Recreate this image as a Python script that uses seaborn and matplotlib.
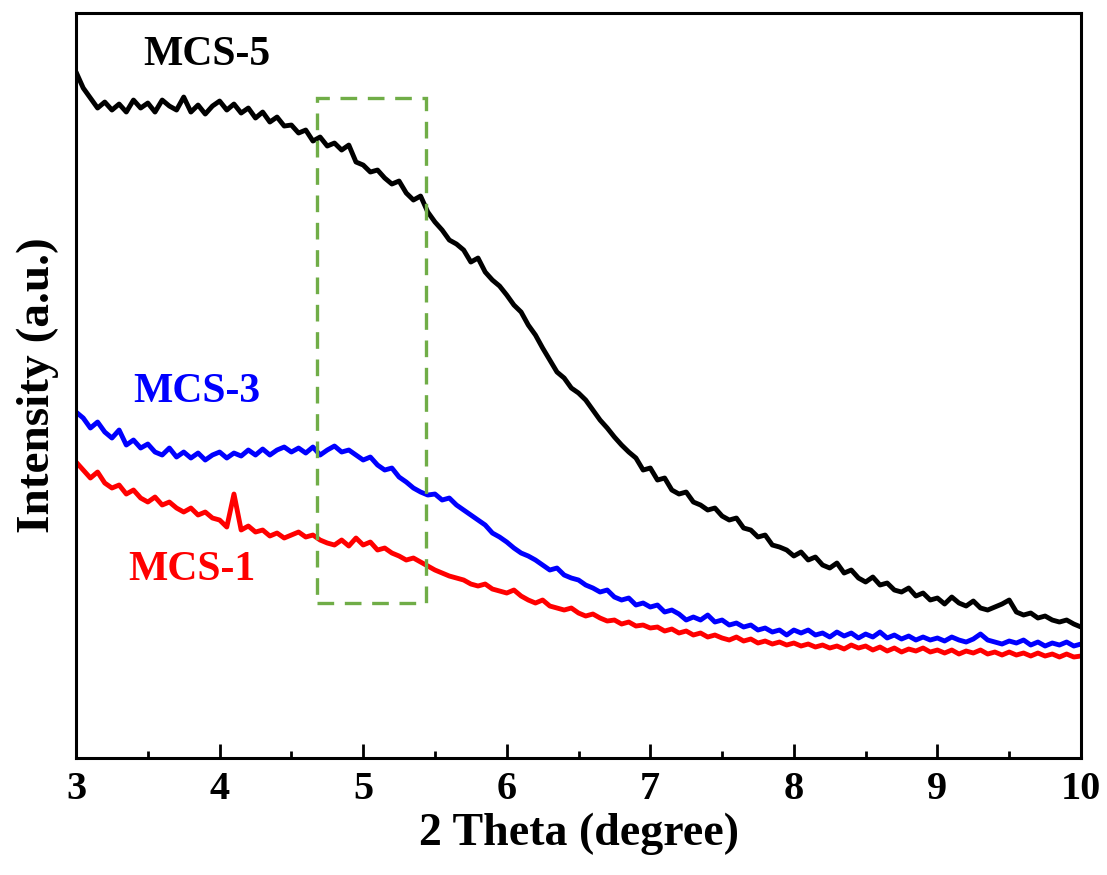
import numpy as np
import pandas as pd
import matplotlib
matplotlib.use("Agg")
import matplotlib.pyplot as plt
import seaborn as sns
from matplotlib.patches import Rectangle
from matplotlib.ticker import MultipleLocator

# 2 theta grid (degree), step 0.05 from 3 to 10
two_theta = [round(3 + 0.05 * i, 2) for i in range(141)]

mcs5 = [686, 670, 660, 650, 656, 648, 654, 646, 658, 650,
        655, 646, 658, 652, 648, 661, 646, 653, 644, 652,
        657, 648, 654, 645, 650, 640, 646, 636, 641, 632,
        633, 625, 628, 617, 621, 612, 615, 608, 613, 596,
        593, 586, 588, 580, 574, 577, 565, 558, 562, 546,
        536, 528, 518, 514, 508, 496, 500, 486, 478, 472,
        463, 453, 446, 433, 423, 410, 398, 386, 380, 370,
        365, 358, 348, 338, 330, 321, 313, 306, 300, 288,
        290, 278, 280, 268, 264, 266, 256, 253, 248, 250,
        242, 238, 240, 230, 228, 221, 223, 213, 211, 208,
        202, 206, 198, 201, 193, 190, 195, 185, 188, 180,
        176, 181, 173, 175, 168, 166, 170, 162, 165, 158,
        160, 154, 161, 155, 152, 157, 150, 148, 151, 154,
        158, 146, 143, 145, 140, 142, 138, 136, 138, 134,
        131]

mcs3 = [346, 340, 330, 336, 326, 320, 328, 313, 318, 310,
        314, 306, 303, 310, 301, 306, 300, 305, 298, 303,
        306, 300, 305, 302, 308, 303, 309, 303, 308, 311,
        306, 310, 305, 311, 303, 308, 312, 306, 308, 303,
        298, 301, 293, 288, 290, 281, 276, 270, 266, 263,
        264, 258, 260, 253, 248, 243, 238, 233, 225, 221,
        216, 210, 205, 202, 198, 193, 188, 190, 183, 180,
        178, 173, 170, 166, 168, 161, 158, 160, 153, 155,
        151, 153, 146, 148, 144, 138, 141, 138, 143, 136,
        138, 133, 135, 131, 133, 128, 130, 126, 128, 123,
        128, 125, 128, 123, 125, 121, 126, 122, 125, 120,
        124, 121, 126, 120, 123, 119, 122, 118, 121, 118,
        120, 117, 121, 118, 116, 119, 124, 118, 116, 114,
        117, 115, 118, 113, 116, 112, 115, 113, 116, 112,
        114]

mcs1 = [296, 288, 280, 286, 275, 270, 273, 264, 268, 260,
        256, 261, 253, 256, 250, 246, 250, 243, 246, 240,
        238, 231, 264, 228, 232, 226, 228, 222, 225, 220,
        223, 226, 221, 223, 218, 215, 213, 218, 212, 220,
        213, 216, 208, 210, 205, 202, 198, 200, 196, 192,
        188, 185, 182, 180, 178, 174, 172, 174, 169, 167,
        165, 168, 162, 158, 155, 158, 152, 150, 148, 150,
        145, 142, 144, 140, 137, 138, 134, 136, 132, 133,
        130, 131, 127, 129, 125, 127, 123, 125, 121, 123,
        120, 118, 121, 117, 119, 115, 117, 114, 116, 113,
        115, 112, 114, 111, 113, 110, 112, 109, 113, 110,
        112, 108, 111, 107, 110, 106, 109, 107, 110, 106,
        108, 105, 108, 104, 107, 105, 108, 104, 106, 103,
        106, 103, 105, 102, 105, 102, 104, 101, 104, 101,
        102]

samples = ["MCS-5", "MCS-3", "MCS-1"]
colors = {"MCS-5": "#000000", "MCS-3": "#0000FF", "MCS-1": "#FF0000"}
xticks = [3, 4, 5, 6, 7, 8, 9, 10]

df = pd.concat([
    pd.DataFrame({"2theta": two_theta, "Intensity": vals, "Sample": name})
    for name, vals in zip(samples, [mcs5, mcs3, mcs1])
], ignore_index=True)

sns.set_theme(style="white")
plt.rcParams["font.family"] = ["Liberation Serif", "DejaVu Serif"]
plt.rcParams["font.weight"] = "bold"
plt.rcParams["text.color"] = "black"
plt.rcParams["axes.labelcolor"] = "black"
plt.rcParams["xtick.color"] = "black"
plt.rcParams["ytick.color"] = "black"

fig = plt.figure(figsize=(11.07, 8.75), dpi=100)
ax = fig.add_axes([0.0687, 0.1337, 0.9078, 0.8514])

sns.lineplot(data=df, x="2theta", y="Intensity", hue="Sample",
             palette=colors, linewidth=3.5, ax=ax, legend=False,
             estimator=None, sort=False)

# dashed highlight box
ax.add_patch(Rectangle((4.678, 155), 5.437 - 4.678, 660 - 155, fill=False,
                       edgecolor="#70AD47", linestyle=(0, (5, 3.2)),
                       linewidth=2.4, zorder=5))

ax.set_xlim(3, 10)
ax.set_ylim(0, 745)
ax.set_xticks(xticks)
ax.set_xticklabels([str(t) for t in xticks])
ax.xaxis.set_minor_locator(MultipleLocator(0.5))
ax.set_yticks([])
ax.tick_params(axis="x", which="major", direction="in", length=10, width=2,
               labelsize=29, pad=9, bottom=True, top=False, labelcolor="black")
ax.tick_params(axis="x", which="minor", direction="in", length=5, width=2,
               bottom=True, top=False)
for lab in ax.get_xticklabels():
    lab.set_fontweight("bold")
    lab.set_color("black")

for sp in ax.spines.values():
    sp.set_visible(True)
    sp.set_color("black")
    sp.set_linewidth(2.2)

ax.set_xlabel("2 Theta (degree)", fontsize=33, fontweight="bold", labelpad=4,
              color="black")
ax.set_ylabel("Intensity (a.u.)", fontsize=34, fontweight="bold", labelpad=12,
              color="black")

ax.text(3.912, 703, "MCS-5", color="#000000", fontsize=30, fontweight="bold",
        ha="center", va="center")
ax.text(3.843, 366, "MCS-3", color="#0000FF", fontsize=30, fontweight="bold",
        ha="center", va="center")
ax.text(3.81, 188, "MCS-1", color="#FF0000", fontsize=30, fontweight="bold",
        ha="center", va="center")

fig.savefig("out.png", dpi=100, facecolor="white")
